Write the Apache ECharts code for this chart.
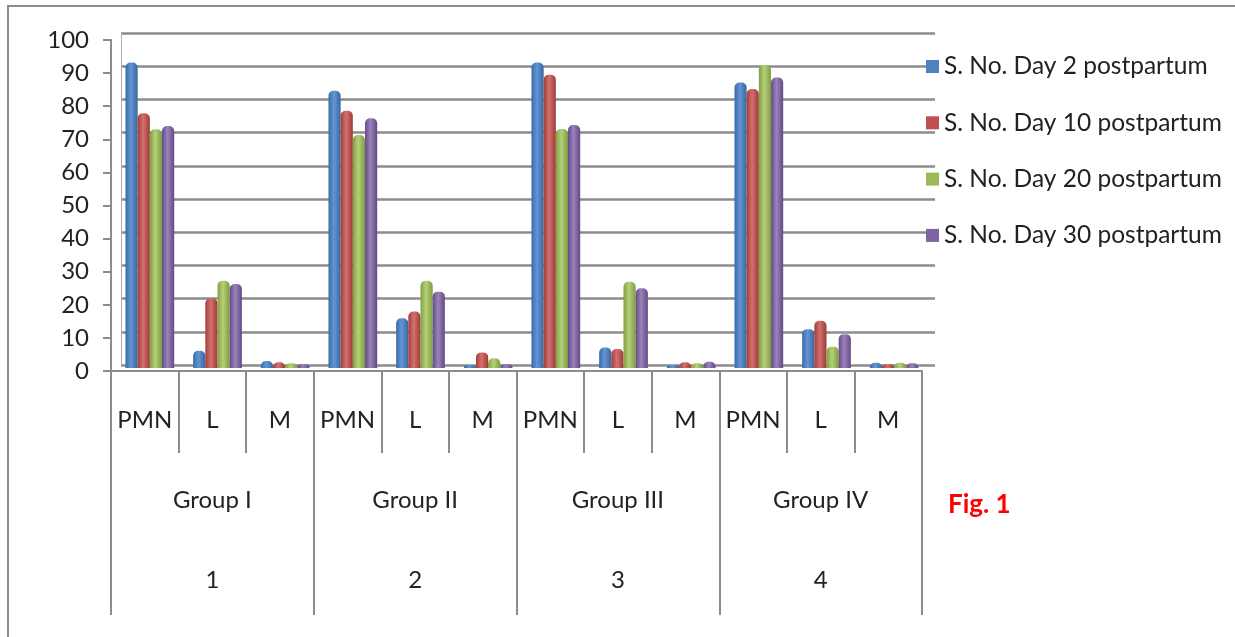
<!DOCTYPE html>
<html>
<head>
<meta charset="utf-8">
<script src="https://cdn.jsdelivr.net/npm/echarts@6/dist/echarts.min.js"></script>
<style>
  html, body { margin: 0; padding: 0; background: #fff; }
  #chart { width: 1235px; height: 637px; }
</style>
</head>
<body>
<div id="chart"></div>
<script>
// categories
var cells = ['PMN', 'L', 'M', 'PMN', 'L', 'M', 'PMN', 'L', 'M', 'PMN', 'L', 'M'];
var groups = ['Group I', 'Group II', 'Group III', 'Group IV'];
var groupNo = ['1', '2', '3', '4'];
var seriesNames = ['S. No. Day 2 postpartum', 'S. No. Day 10 postpartum',
                   'S. No. Day 20 postpartum', 'S. No. Day 30 postpartum'];

// values
var day2  = [92.0, 5.2, 2.1, 83.5, 15.0, 0.9, 92.0, 6.2, 0.9, 86.0, 11.7, 1.6];
var day10 = [76.7, 21.0, 1.7, 77.5, 17.0, 4.7, 88.3, 5.7, 1.7, 84.0, 14.2, 1.1];
var day20 = [71.9, 26.3, 1.4, 70.2, 26.3, 2.9, 72.0, 26.0, 1.4, 91.3, 6.4, 1.6];
var day30 = [72.9, 25.3, 1.1, 75.2, 23.0, 1.1, 73.2, 24.0, 1.9, 87.5, 10.2, 1.4];

var yTicks = [0, 10, 20, 30, 40, 50, 60, 70, 80, 90, 100];

// excel-ish cylinder shading: dark / light / dark
var palette = [
    ['#3b6aa5', '#6395d4', '#3a67a0', '#4f81bd'],
    ['#a13e3b', '#d4706d', '#9e3b38', '#c0504d'],
    ['#819f43', '#b5d07a', '#7e9c40', '#9bbb59'],
    ['#654c87', '#9a82bb', '#634a84', '#8064a2']
];
var allData = [day2, day10, day20, day30];

var font = 'Lato';
var gray = '#8c8c8c';
var fs = 24;

var myChart = echarts.init(document.getElementById('chart'));

var barSeries = allData.map(function (d, i) {
    var p = palette[i];
    return {
        name: seriesNames[i],
        type: 'bar',
        xAxisIndex: 4,
        yAxisIndex: 2,
        data: d,
        barGap: '0%',
        barCategoryGap: '28%',
        itemStyle: {
            borderRadius: [5, 5, 0, 0],
            color: new echarts.graphic.LinearGradient(0, 0, 1, 0, [
                {offset: 0, color: p[0]},
                {offset: 0.45, color: p[1]},
                {offset: 1, color: p[2]}
            ])
        }
    };
});

var option = {
    animation: false,
    backgroundColor: '#fff',
    textStyle: {fontFamily: font},
    legend: {
        orient: 'vertical',
        left: 921,
        top: 49,
        itemWidth: 13,
        itemHeight: 13,
        itemGap: 31.3,
        icon: 'rect',
        textStyle: {fontFamily: font, fontSize: 24.5, color: '#222'},
        data: seriesNames.map(function (n, i) {
            return {name: n, itemStyle: {color: palette[i][3]}};
        })
    },
    grid: [
        // front: axes and labels
        {left: 111, right: 313, top: 40, bottom: 266},
        // back wall: gridlines
        {left: 121, right: 300, top: 33, bottom: 272},
        // middle depth: the bars
        {left: 116, right: 307, top: 36, bottom: 269}
    ],
    xAxis: [
        {
            type: 'category', gridIndex: 0, data: cells,
            axisLine: {lineStyle: {color: gray, width: 2}},
            axisTick: {show: true, interval: 0, length: 82, lineStyle: {color: gray, width: 2}},
            axisLabel: {interval: 0, margin: 37, fontSize: fs, color: '#222', fontFamily: font}
        },
        {
            type: 'category', gridIndex: 0, data: groups, position: 'bottom',
            axisLine: {show: false},
            axisTick: {show: true, interval: 0, length: 244, lineStyle: {color: gray, width: 2}},
            axisLabel: {interval: 0, margin: 117, fontSize: fs, color: '#222', fontFamily: font}
        },
        {
            type: 'category', gridIndex: 0, data: groupNo, position: 'bottom',
            axisLine: {show: false},
            axisTick: {show: false},
            axisLabel: {interval: 0, margin: 197, fontSize: fs, color: '#222', fontFamily: font}
        },
        {
            type: 'category', gridIndex: 1, data: cells, show: false
        },
        {
            type: 'category', gridIndex: 2, data: cells, show: false
        }
    ],
    yAxis: [
        {
            type: 'value', gridIndex: 0, min: 0, max: 100, interval: 10,
            axisLine: {show: true, lineStyle: {color: gray, width: 2}},
            axisTick: {show: true, length: 8, lineStyle: {color: gray, width: 2}},
            splitLine: {show: false},
            axisLabel: {
                margin: 22, fontSize: fs, color: '#222', fontFamily: font,
                formatter: function (v) { return yTicks.indexOf(v) >= 0 ? String(v) : ''; }
            }
        },
        {
            type: 'value', gridIndex: 1, min: 0, max: 100, interval: 10,
            axisLine: {show: true, lineStyle: {color: '#b0b0b0', width: 1}},
            axisTick: {show: false},
            axisLabel: {show: false},
            splitLine: {show: true, lineStyle: {color: gray, width: 2.5}}
        },
        {
            type: 'value', gridIndex: 2, min: 0, max: 100, show: false,
            splitLine: {show: false}
        }
    ],
    graphic: [
        {
            type: 'rect', z: -1,
            shape: {x: 8, y: 6, width: 1240, height: 650},
            style: {fill: 'none', stroke: gray, lineWidth: 2}
        },
        {
            type: 'text', left: 948, top: 492,
            style: {text: 'Fig. 1', fill: '#ff0000', font: 'bold 26px ' + font}
        }
    ],
    series: barSeries
};

myChart.setOption(option);
</script>
</body>
</html>
